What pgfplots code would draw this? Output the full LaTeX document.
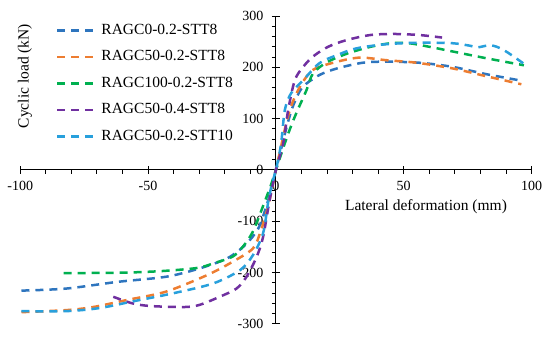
\documentclass[border=0pt]{standalone}
\usepackage{pgfplots}
\pgfplotsset{compat=1.18}
\usepackage{fontspec}
\setmainfont{Liberation Serif}
\definecolor{cdblue}{RGB}{46,117,190}
\definecolor{corange}{RGB}{237,125,49}
\definecolor{cgreen}{RGB}{0,176,80}
\definecolor{cpurple}{RGB}{112,48,160}
\definecolor{clblue}{RGB}{40,160,220}
\newcommand{\fs}{\fontsize{14bp}{16bp}\selectfont}
\newcommand{\fl}{\fontsize{15.5bp}{18bp}\selectfont}
\begin{document}
\begin{tikzpicture}
\begin{axis}[
  x=2.557bp, y=0.5133bp,
  xmin=-100, xmax=100, ymin=-300, ymax=300,
  axis lines=middle,
  axis line style={line width=1bp, -},
  clip=false,
  xtick={-100,-50,0,50,100},
  ytick={-300,-200,-100,0,100,200,300},
  minor x tick num=4, minor y tick num=4,
  tick align=center,
  major tick length=8bp, minor tick length=4bp,
  tick style={line width=1bp, black},
  minor x tick style={yshift=-2bp},
  minor y tick style={xshift=-2bp},
  hide obscured x ticks=false, hide obscured y ticks=false,
  /pgf/number format/assume math mode=true,
  tick label style={font=\fs},
  x tick label style={anchor=north, yshift=-4bp},
  y tick label style={anchor=east, xshift=-5bp},
  xlabel={Lateral deformation (mm)},
  ylabel={Cyclic load (kN)},
  label style={font=\fl},
  xlabel style={at={(rel axis cs:0.7935,0.38)}, anchor=center},
  ylabel style={at={(rel axis cs:0.009,0.805)}, anchor=center, rotate=90},
  legend style={at={(rel axis cs:0.0695,0.977)}, anchor=north west, draw=none, fill=none, font=\fl,
    row sep=12.5bp, inner sep=0pt,
    nodes={inner sep=0pt, text height=11bp, text depth=3bp, anchor=west},
    /tikz/every odd column/.append style={column sep=2bp}},
  legend cell align=left,
  legend image code/.code={\draw[#1] (0bp,0bp) -- (41bp,0bp);},
  every axis plot/.append style={line width=2.5bp, dash pattern=on 8bp off 6bp, smooth, tension=0.5},
]
\addplot[cdblue] coordinates {
(-99.5,-235) (-82,-231) (-62,-218) (-43,-208) (-30,-192) (-19,-172) (-12,-146) (-7,-115) (-4,-75) (-2,-40) (0,0)
(2,40) (4,80) (6,115) (8,140) (10.7,163) (17,185) (24,198) (34,209) (43,211) (56,209) (69,201) (82,187) (96,174)};
\addlegendentry{RAGC0-0.2-STT8}
\addplot[corange] coordinates {
(-99.5,-277) (-82,-273) (-71.5,-267) (-58,-253) (-43,-237) (-27,-205) (-17,-179) (-9,-153) (-6,-120) (-3,-70) (0,0)
(2,45) (4,90) (6,125) (9.4,162) (14.5,195) (24,211) (33,219) (43,214) (55,209) (69,198) (82,183) (96,167)};
\addlegendentry{RAGC50-0.2-STT8}
\addplot[cgreen] coordinates {
(-83,-201) (-60,-200) (-45,-197) (-31,-191) (-24.5,-182) (-17,-169) (-13,-150) (-9,-120) (-5,-70) (-2,-30) (0,0)
(3,45) (5.5,80) (8,111) (12,156) (14.5,188) (20,210) (28,227) (37,240) (45,247) (52,247) (59,241) (71,229) (82,218) (97,204)};
\addlegendentry{RAGC100-0.2-STT8}
\addplot[cpurple] coordinates {
(-63.6,-247) (-56,-260) (-49,-265) (-36,-267) (-30,-263) (-22,-247) (-15.4,-231) (-11.5,-208) (-7.5,-169) (-5,-130) (-2.5,-60) (0,0)
(2.9,53) (4.8,117) (7.4,175) (10.7,201) (14.5,221) (20.4,240) (27.6,253) (37,263) (46,265) (56,263) (65,258)};
\addlegendentry{RAGC50-0.4-STT8}
\addplot[clblue] coordinates {
(-99.5,-275) (-82,-275) (-69,-269) (-56,-256) (-40,-240) (-24.5,-221) (-14,-195) (-9,-166) (-5,-123) (-3,-62) (-1.5,-26) (0,0)
(2,50) (3.5,117) (6,150) (10.7,175) (17,208) (24,224) (31.5,237) (43,245) (56,248) (69,247) (76,242) (79,239) (84,243) (89,234) (96.7,208)};
\addlegendentry{RAGC50-0.2-STT10}
\coordinate (bbsw) at (axis cs:-107.9,-325.3);
\coordinate (bbne) at (axis cs:107.2,331.2);
\end{axis}
\pgfresetboundingbox
\path (bbsw) rectangle (bbne);
\end{tikzpicture}
\end{document}
